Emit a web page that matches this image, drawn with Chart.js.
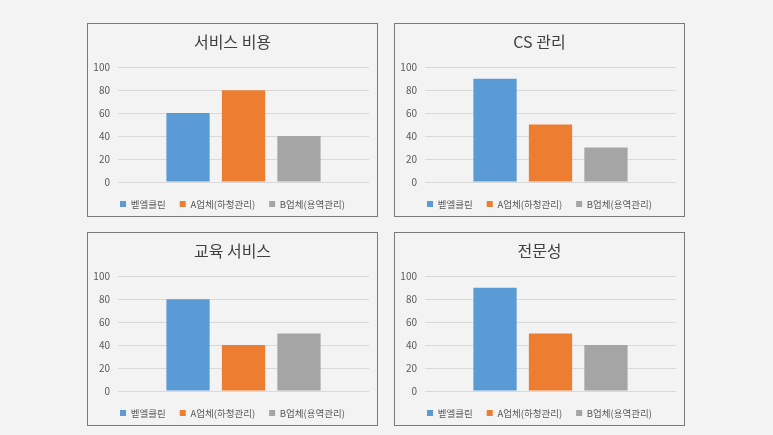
<!DOCTYPE html>
<html>
<head>
<meta charset="utf-8">
<script src="https://cdn.jsdelivr.net/npm/chart.js@4.4.1/dist/chart.umd.min.js"></script>
<style>
  body { margin: 0; background: #f3f3f3; width: 773px; height: 435px; position: relative; overflow: hidden; }
  .box { position: absolute; width: 289px; height: 192px; border: 1px solid #7a7a7a; background: #f3f3f3; }
  .box canvas { display: block; }
</style>
</head>
<body>
<div class="box" style="left:87px;top:23px;"><canvas id="c0"></canvas></div>
<div class="box" style="left:394px;top:23px;"><canvas id="c1"></canvas></div>
<div class="box" style="left:87px;top:232px;"><canvas id="c2"></canvas></div>
<div class="box" style="left:394px;top:232px;"><canvas id="c3"></canvas></div>
<script>
const companies = ["벧엘클린", "A업체(하청관리)", "B업체(용역관리)"];
const chartTitles = ["서비스 비용", "CS 관리", "교육 서비스", "전문성"];
const bethelValues = [60, 90, 80, 90];
const aValues = [80, 50, 40, 50];
const bValues = [40, 30, 50, 40];
const yMax = 100;
const yStep = 20;

const colors = ["#5B9BD5", "#ED7D31", "#A5A5A5"];
const fontFamily = "'Noto Sans CJK KR', 'Noto Sans', sans-serif";

function makeChart(idx) {
  const ctx = document.getElementById("c" + idx).getContext("2d");
  const series = [bethelValues[idx], aValues[idx], bValues[idx]];
  return new Chart(ctx, {
    type: "bar",
    data: {
      labels: [""],
      datasets: companies.map((name, i) => ({
        label: name,
        data: [series[i]],
        backgroundColor: colors[i],
        borderWidth: 0,
        categoryPercentage: 0.663,
        barPercentage: 0.78,
      })),
    },
    options: {
      responsive: true,
      maintainAspectRatio: false,
      animation: false,
      devicePixelRatio: 1,
      layout: { padding: { left: 0, right: 0, top: 0, bottom: -2.75 } },
      plugins: {
        tooltip: { enabled: false },
        title: {
          display: true,
          text: chartTitles[idx],
          color: "#404040",
          font: { family: fontFamily, size: 16, weight: "normal" },
          padding: { top: 8, bottom: 16 },
        },
        legend: {
          position: "bottom",
          // thin empty title only pushes the legend row down a little
          title: { display: true, text: " ", color: "rgba(0,0,0,0)", font: { size: 1, lineHeight: 3.25 }, padding: 0 },
          labels: {
            boxWidth: 6,
            boxHeight: 6,
            padding: 14,
            color: "#595959",
            font: { family: fontFamily, size: 9.5 },
          },
        },
      },
      scales: {
        x: { display: false },
        y: {
          min: 0,
          max: yMax,
          ticks: {
            stepSize: yStep,
            padding: 8,
            color: "#595959",
            font: { family: fontFamily, size: 10 },
          },
          grid: { color: "#d9d9d9", drawTicks: false },
          border: { display: false },
          afterFit: (scale) => { scale.width = 30; },
        },
        y2: {
          position: "right",
          ticks: { display: false },
          grid: { display: false },
          border: { display: false },
          afterFit: (scale) => { scale.width = 8; },
        },
      },
    },
  });
}

window.onload = function () {
  for (let i = 0; i < chartTitles.length; i++) makeChart(i);
};
</script>
</body>
</html>
